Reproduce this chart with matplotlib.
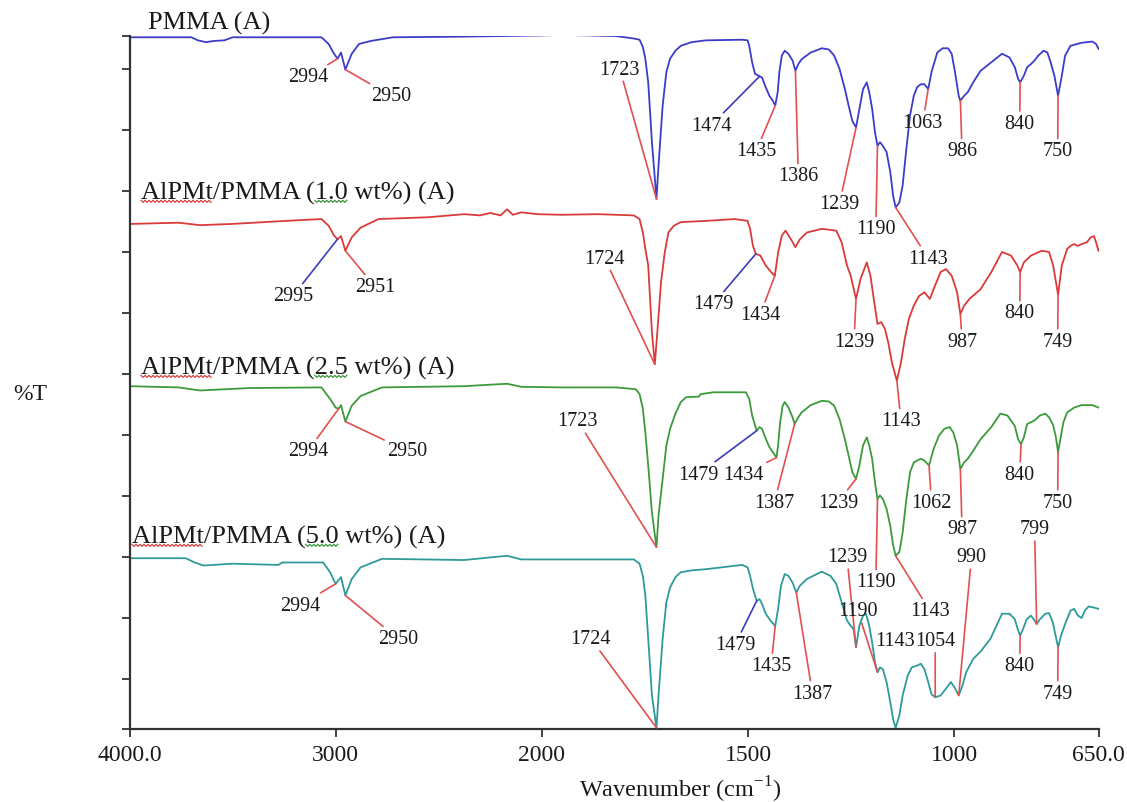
import numpy as np
import matplotlib
matplotlib.use("Agg")
import matplotlib.pyplot as plt
from matplotlib.lines import Line2D

plt.rcParams["font.family"] = ["Liberation Serif", "DejaVu Serif"]
plt.rcParams["mathtext.fontset"] = "custom"
plt.rcParams["mathtext.rm"] = "Liberation Serif"

# --- spectra: wavenumber (cm-1) and stacked %T (one unit = one y tick) ---
pmma_wn = [4000, 3700, 3668, 3630, 3590, 3540, 3500, 3069, 3034, 3008, 2991, 2974, 2953, 2922,
           2887, 2829, 2722, 2400, 2200, 2000, 1952, 1820, 1777, 1763, 1755, 1749, 1742, 1733,
           1722, 1717, 1707, 1698, 1689, 1676, 1663, 1637, 1602, 1514, 1501, 1497, 1490, 1483,
           1472, 1466, 1457, 1448, 1440, 1434, 1428, 1424, 1418, 1411, 1402, 1392, 1385, 1378,
           1370, 1348, 1321, 1304, 1291, 1278, 1265, 1256, 1247, 1238, 1230, 1221, 1212, 1206,
           1199, 1192, 1186, 1180, 1173, 1164, 1155, 1148, 1142, 1133, 1125, 1116, 1107, 1098,
           1090, 1081, 1072, 1063, 1055, 1041, 1028, 1015, 1006, 998, 989, 985, 976, 967, 954,
           936, 910, 884, 866, 853, 845, 840, 831, 823, 814, 805, 796, 783, 774, 766, 757, 748,
           739, 731, 718, 691, 665, 656, 650]
pmma_t = [10.52, 10.52, 10.47, 10.44, 10.46, 10.47, 10.52, 10.52, 10.41, 10.25, 10.17, 10.27,
          9.99, 10.25, 10.41, 10.46, 10.52, 10.53, 10.54, 10.55, 10.56, 10.54, 10.50, 10.48, 10.36,
          10.17, 9.78, 8.80, 7.87, 8.42, 9.40, 9.95, 10.17, 10.30, 10.38, 10.44, 10.47, 10.48,
          10.47, 10.38, 10.11, 9.92, 9.88, 9.86, 9.70, 9.56, 9.48, 9.40, 9.62, 9.95, 10.22, 10.30,
          10.25, 10.14, 9.97, 10.08, 10.16, 10.27, 10.34, 10.32, 10.22, 10.00, 9.67, 9.40, 9.15,
          9.04, 9.34, 9.67, 9.78, 9.62, 9.35, 8.96, 8.74, 8.80, 8.74, 8.64, 8.31, 7.92, 7.73, 7.81,
          8.09, 8.69, 9.24, 9.56, 9.70, 9.75, 9.75, 9.67, 9.95, 10.27, 10.34, 10.34, 10.25, 9.95,
          9.56, 9.48, 9.56, 9.62, 9.78, 9.97, 10.11, 10.25, 10.19, 10.03, 9.84, 9.78, 9.89, 10.03,
          10.08, 10.14, 10.22, 10.30, 10.27, 10.11, 9.89, 9.56, 9.89, 10.22, 10.38, 10.43, 10.45,
          10.41, 10.33]

pm10_wn = [4000, 3762, 3658, 3503, 3242, 3069, 3034, 3008, 2991, 2974, 2953, 2922, 2879, 2792,
           2549, 2377, 2300, 2250, 2200, 2169, 2140, 2100, 2021, 1952, 1864, 1777, 1763, 1755,
           1749, 1742, 1733, 1726, 1720, 1711, 1702, 1693, 1680, 1663, 1602, 1532, 1501, 1495,
           1488, 1481, 1470, 1457, 1444, 1435, 1427, 1418, 1409, 1396, 1385, 1374, 1357, 1321,
           1286, 1273, 1260, 1251, 1238, 1227, 1212, 1203, 1195, 1186, 1177, 1168, 1160, 1151,
           1139, 1129, 1120, 1110, 1098, 1085, 1072, 1059, 1050, 1033, 1020, 1006, 993, 985, 976,
           963, 936, 910, 884, 862, 847, 840, 831, 814, 788, 770, 760, 748, 739, 726, 718, 709,
           700, 691, 678, 669, 661, 656, 650]
pm10_t = [7.46, 7.48, 7.44, 7.46, 7.51, 7.54, 7.43, 7.27, 7.21, 7.26, 7.02, 7.24, 7.40, 7.54,
          7.57, 7.62, 7.60, 7.64, 7.60, 7.70, 7.61, 7.65, 7.62, 7.61, 7.62, 7.60, 7.54, 7.32, 7.05,
          6.78, 5.68, 5.16, 5.68, 6.50, 6.99, 7.32, 7.43, 7.49, 7.51, 7.54, 7.51, 7.38, 7.10, 6.97,
          6.94, 6.78, 6.67, 6.61, 6.99, 7.27, 7.35, 7.21, 7.08, 7.21, 7.32, 7.38, 7.35, 7.16, 6.78,
          6.61, 6.23, 6.56, 6.83, 6.61, 6.23, 5.82, 5.85, 5.74, 5.52, 5.19, 4.89, 5.19, 5.57, 5.90,
          6.12, 6.28, 6.34, 6.23, 6.39, 6.67, 6.72, 6.61, 6.34, 5.98, 6.12, 6.23, 6.39, 6.67, 7.00,
          6.94, 6.78, 6.67, 6.83, 6.94, 7.02, 7.00, 6.78, 6.30, 6.78, 7.05, 7.10, 7.13, 7.10, 7.13,
          7.16, 7.24, 7.26, 7.16, 7.02]

pm25_wn = [4000, 3762, 3658, 3416, 3069, 3027, 3000, 2986, 2974, 2953, 2922, 2879, 2775, 2377,
           2169, 2100, 1952, 1820, 1772, 1763, 1755, 1749, 1742, 1733, 1722, 1717, 1707, 1698,
           1689, 1676, 1663, 1650, 1619, 1615, 1584, 1505, 1497, 1490, 1479, 1472, 1466, 1457,
           1448, 1440, 1431, 1427, 1422, 1416, 1411, 1402, 1392, 1387, 1378, 1370, 1348, 1321,
           1304, 1291, 1278, 1265, 1256, 1247, 1238, 1230, 1221, 1212, 1206, 1199, 1192, 1186,
           1180, 1173, 1164, 1155, 1148, 1142, 1133, 1125, 1116, 1107, 1098, 1090, 1081, 1072,
           1061, 1050, 1037, 1024, 1011, 1002, 993, 985, 976, 967, 954, 936, 910, 888, 871, 853,
           845, 838, 831, 823, 814, 805, 792, 779, 770, 761, 754, 748, 741, 735, 726, 709, 691,
           665, 650]
pm25_t = [4.80, 4.78, 4.73, 4.77, 4.78, 4.59, 4.45, 4.43, 4.49, 4.22, 4.48, 4.64, 4.78, 4.80,
          4.84, 4.79, 4.78, 4.78, 4.75, 4.67, 4.43, 4.04, 3.50, 2.73, 2.16, 2.68, 3.28, 3.83, 4.10,
          4.35, 4.54, 4.62, 4.63, 4.67, 4.70, 4.70, 4.59, 4.32, 4.07, 4.13, 4.10, 3.94, 3.80, 3.72,
          3.63, 3.83, 4.21, 4.48, 4.54, 4.45, 4.29, 4.18, 4.29, 4.37, 4.49, 4.56, 4.55, 4.48, 4.26,
          3.93, 3.66, 3.39, 3.28, 3.50, 3.83, 3.96, 3.83, 3.61, 3.22, 2.95, 3.01, 2.95, 2.79, 2.51,
          2.19, 2.02, 2.08, 2.40, 2.95, 3.39, 3.55, 3.58, 3.61, 3.58, 3.50, 3.77, 3.99, 4.10, 4.13,
          4.04, 3.83, 3.44, 3.55, 3.61, 3.74, 3.93, 4.13, 4.35, 4.32, 4.15, 3.93, 3.85, 3.96, 4.18,
          4.21, 4.24, 4.32, 4.35, 4.29, 4.18, 3.99, 3.72, 3.99, 4.21, 4.37, 4.45, 4.49, 4.49, 4.45]

pm50_wn = [4000, 3727, 3684, 3641, 3503, 3277, 3260, 3061, 3027, 3000, 2986, 2974, 2953, 2922,
           2879, 2775, 2377, 2169, 2100, 1952, 1777, 1763, 1755, 1749, 1742, 1733, 1722, 1717,
           1707, 1698, 1689, 1676, 1663, 1637, 1602, 1514, 1501, 1495, 1488, 1479, 1472, 1466,
           1457, 1446, 1434, 1427, 1420, 1411, 1402, 1392, 1383, 1374, 1357, 1321, 1300, 1286,
           1273, 1260, 1251, 1244, 1238, 1230, 1221, 1214, 1206, 1199, 1192, 1186, 1180, 1173,
           1164, 1155, 1148, 1142, 1133, 1125, 1113, 1103, 1090, 1081, 1072, 1063, 1055, 1046,
           1033, 1020, 1008, 999, 989, 980, 971, 954, 936, 912, 884, 866, 853, 846, 840, 833, 824,
           814, 805, 800, 792, 779, 770, 761, 754, 748, 741, 731, 718, 709, 700, 691, 683, 674,
           661, 650]
pm50_t = [1.98, 1.98, 1.91, 1.86, 1.89, 1.87, 1.91, 1.91, 1.75, 1.56, 1.62, 1.67, 1.37, 1.64,
          1.83, 1.97, 1.95, 2.02, 1.96, 1.96, 1.96, 1.89, 1.69, 1.37, 0.66, -0.27, -0.80, -0.27,
          0.66, 1.26, 1.50, 1.67, 1.75, 1.78, 1.80, 1.87, 1.83, 1.69, 1.48, 1.28, 1.31, 1.23, 1.07,
          0.96, 0.87, 1.15, 1.53, 1.72, 1.69, 1.58, 1.42, 1.53, 1.64, 1.76, 1.69, 1.56, 1.26, 0.96,
          0.87, 0.82, 0.52, 0.87, 1.04, 1.07, 0.87, 0.60, 0.27, 0.11, 0.19, 0.16, -0.05, -0.38,
          -0.66, -0.80, -0.60, -0.27, 0.05, 0.19, 0.22, 0.25, 0.16, -0.05, -0.25, -0.30, -0.27,
          -0.16, -0.05, -0.14, -0.27, -0.11, 0.11, 0.33, 0.45, 0.66, 1.07, 1.07, 0.98, 0.82, 0.71,
          0.82, 0.98, 1.04, 0.96, 0.90, 0.98, 1.07, 1.08, 0.93, 0.71, 0.52, 0.71, 0.90, 1.12, 1.15,
          1.04, 1.00, 1.12, 1.19, 1.17, 1.15]

names = ["PMMA (A)", "AlPMt/PMMA (1.0 wt%) (A)", "AlPMt/PMMA (2.5 wt%) (A)",
         "AlPMt/PMMA (5.0 wt%) (A)"]

# peak labels: text, wavenumber of the marked band
pmma_peaks = [("2994", 2991), ("2950", 2953), ("1723", 1722), ("1474", 1472), ("1435", 1434),
              ("1386", 1385), ("1239", 1238), ("1190", 1186), ("1143", 1142), ("1063", 1063),
              ("986", 985), ("840", 840), ("750", 748)]
pm10_peaks = [("2995", 2991), ("2951", 2953), ("1724", 1726), ("1479", 1481), ("1434", 1435),
              ("1239", 1238), ("1143", 1139), ("987", 985), ("840", 840), ("749", 748)]
pm25_peaks = [("2994", 2986), ("2950", 2953), ("1723", 1722), ("1479", 1479), ("1434", 1431),
              ("1387", 1387), ("1239", 1238), ("1190", 1186), ("1143", 1142), ("1062", 1061),
              ("987", 985), ("840", 838), ("750", 748)]
pm50_peaks = [("2994", 3000), ("2950", 2953), ("1724", 1722), ("1479", 1479), ("1435", 1434),
              ("1387", 1383), ("1239", 1238), ("1190", 1186), ("1143", 1142), ("1054", 1046),
              ("990", 989), ("799", 800), ("840", 840), ("749", 748)]

# layout of the peak labels: text centre (wavenumber, y) and leader colour
R, B = "#e25050", "#3b3bb8"
pmma_txt = [(3134, 9.87, R), (2732, 9.56, R), (1811, 10.0, R), (1589, 9.08, B), (1480, 8.66, R),
            (1378, 8.25, R), (1278, 7.80, R), (1190, 7.38, R), (1063, 6.90, R), (1076, 9.13, R),
            (981, 8.66, R), (841, 9.11, R), (749, 8.66, R)]
pm10_txt = [(3207, 6.28, B), (2809, 6.43, R), (1848, 6.90, R), (1584, 6.15, B), (1470, 5.98, R),
            (1243, 5.54, R), (1129, 4.23, R), (981, 5.54, R), (841, 6.00, R), (749, 5.54, R)]
pm25_txt = [(3134, 3.74, R), (2654, 3.74, R), (1913, 4.23, R), (1620, 3.36, B), (1510, 3.36, R),
            (1436, 2.90, R), (1282, 2.90, R), (1190, 1.59, R), (1059, 1.12, R), (1055, 2.90, R),
            (981, 2.46, R), (841, 3.36, R), (749, 2.90, R)]
pm50_txt = [(3173, 1.21, R), (2698, 0.66, R), (1881, 0.66, R), (1531, 0.57, B), (1444, 0.22, R),
            (1344, -0.23, R), (1260, 2.00, R), (1234, 1.12, R), (1143, 0.63, None),
            (1046, 0.63, R), (958, 2.00, R), (805, 2.46, R), (841, 0.22, R), (749, -0.23, R)]

name_pos = [(3910, 10.77), (3944, 7.98), (3944, 5.11), (3988, 2.34)]
colors = ["#3c3cc8", "#d93a3a", "#3c9a3c", "#2f9a9a"]


def fwd(x):
    x = np.asarray(x, dtype=float)
    return np.where(x >= 2000, x, 2 * x - 2000)


def inv(u):
    u = np.asarray(u, dtype=float)
    return np.where(u >= 2000, u, (u + 2000) / 2)


fig = plt.figure(figsize=(11.27, 8.03), dpi=100)
ax = fig.add_axes([129.5 / 1127, 73 / 803, 969 / 1127, 693.3 / 803])
ax.set_xscale("function", functions=(fwd, inv))
ax.set_xlim(4000, 650)
ax.set_ylim(-0.82, 10.546)

series = [(pmma_wn, pmma_t, pmma_peaks, pmma_txt), (pm10_wn, pm10_t, pm10_peaks, pm10_txt),
          (pm25_wn, pm25_t, pm25_peaks, pm25_txt), (pm50_wn, pm50_t, pm50_peaks, pm50_txt)]

name_texts = []
for (wn, t, peaks, txt), col, name, (nx, ny) in zip(series, colors, names, name_pos):
    wn = np.array(wn, dtype=float)
    t = np.array(t, dtype=float)
    ax.plot(wn, t, color=col, lw=1.3)
    name_texts.append(ax.text(nx, ny, name, ha="left", va="center", fontsize=19,
                              color="#1a1a1a", clip_on=False))
    for (lab, p), (tx, ty, lc) in zip(peaks, txt):
        py = np.interp(p, wn[::-1], t[::-1])
        if lc is None:
            ax.text(tx, ty, lab, ha="center", va="center", fontsize=14.5, color="#1a1a1a")
        else:
            ax.annotate(lab, xy=(p, py), xytext=(tx, ty), ha="center", va="center",
                        fontsize=14.5, color="#1a1a1a",
                        arrowprops=dict(arrowstyle="-", color=lc, lw=1.2,
                                        shrinkA=0, shrinkB=0))

ax.set_xticks([4000, 3000, 2000, 1500, 1000, 650])
ax.set_xticklabels(["4000.0", "3000", "2000", "1500", "1000", "650.0"])
ax.xaxis.set_minor_locator(plt.NullLocator())
ax.set_yticks([-0.82] + list(range(11)) + [10.546])
ax.set_yticklabels([])
ax.tick_params(direction="out", length=6, width=1.3, labelsize=17, pad=5,
               colors="#333333", labelcolor="#1a1a1a")
for s in ["top", "right"]:
    ax.spines[s].set_visible(False)
for s in ["left", "bottom"]:
    ax.spines[s].set_linewidth(1.6)
    ax.spines[s].set_color("#333333")

fig.text(680 / 1127, 1 - 790 / 803, "Wavenumber (cm$^{-1}$)", ha="center", va="center",
         fontsize=17.5, color="#1a1a1a")
fig.text(30 / 1127, 1 - 395 / 803, "%T", ha="center", va="center", fontsize=17,
         color="#1a1a1a")

# spell-check squiggles under parts of the sample names
fig.canvas.draw()
rend = fig.canvas.get_renderer()
W, H = fig.bbox.width, fig.bbox.height


def squiggle(txt, start, stop, color):
    s = txt.get_text()
    fp = txt.get_fontproperties()
    bb = txt.get_window_extent(rend)
    w0 = rend.get_text_width_height_descent(s[:start], fp, ismath=False)[0] if start else 0
    w1 = rend.get_text_width_height_descent(s[:stop], fp, ismath=False)[0]
    d = rend.get_text_width_height_descent(s, fp, ismath=False)[2]
    y = bb.y0 + d - 3
    xs = np.arange(bb.x0 + w0, bb.x0 + w1, 2.0)
    ys = y + np.where(np.arange(len(xs)) % 2 == 0, 1.0, -1.0)
    fig.add_artist(Line2D(xs / W, ys / H, transform=fig.transFigure, color=color, lw=0.9))


for t in name_texts[1:]:
    squiggle(t, 0, 5, "#d84040")
    squiggle(t, 12, 15, "#3c9a3c")

fig.savefig("out.png", dpi=100)
